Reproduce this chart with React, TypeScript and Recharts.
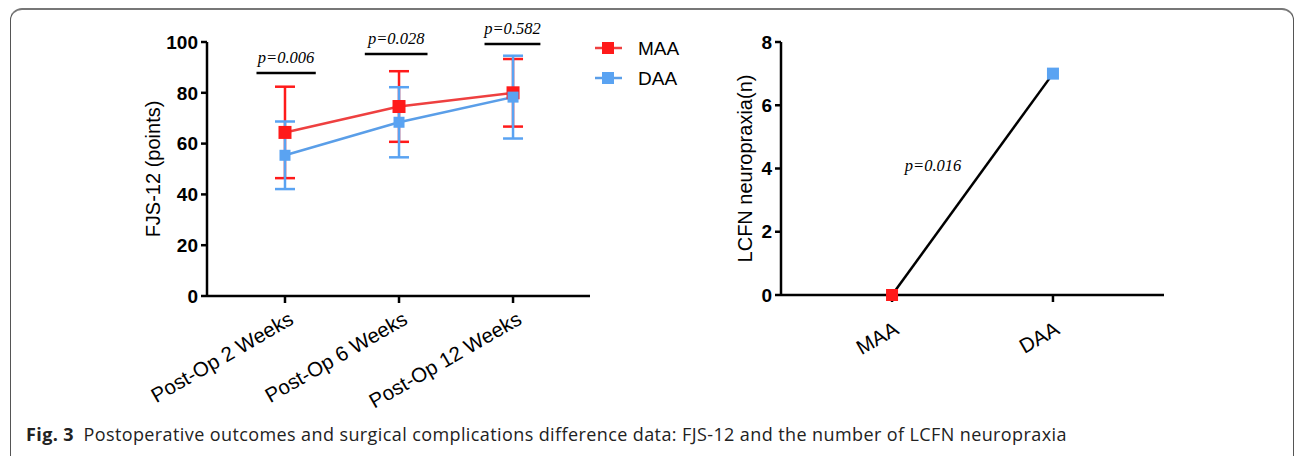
import React from "react";
import {
  LineChart,
  Line,
  XAxis,
  YAxis,
  ErrorBar,
  ReferenceLine,
  ReferenceDot,
} from "recharts";

// FJS-12 panel
const timepoints = ["Post-Op 2 Weeks", "Post-Op 6 Weeks", "Post-Op 12 Weeks"];
const maaMean = [64.4, 74.6, 80.0];
const maaSd = [18.0, 13.9, 13.3];
const daaMean = [55.4, 68.4, 78.3];
const daaSd = [13.3, 13.8, 16.3];
const fjsTicks = [0, 20, 40, 60, 80, 100];
const pLabels = ["p=0.006", "p=0.028", "p=0.582"];
const pLevels = [87.8, 95.3, 99.2];

// LCFN panel
const groups = ["MAA", "DAA"];
const lcfnCounts = [0, 7];
const lcfnTicks = [0, 2, 4, 6, 8];
const lcfnP = "p=0.016";

const RED = "#ff1a1a";
const RED_LINE = "#ee4040";
const BLUE = "#5aa3f2";
const BLUE_LINE = "#5a9ee8";

const fjsData = timepoints.map((t, i) => ({
  x: i,
  name: t,
  maa: maaMean[i],
  maaSd: maaSd[i],
  daa: daaMean[i],
  daaSd: daaSd[i],
}));

const lcfnData = groups.map((g, i) => ({
  x: i,
  name: g,
  n: lcfnCounts[i],
  color: i === 0 ? RED : BLUE,
}));

const Square = (props: any) => {
  const { cx, cy, size, fill } = props;
  if (cx == null || cy == null) return null;
  return <rect x={cx - size / 2} y={cy - size / 2} width={size} height={size} fill={fill} />;
};

const makeTick = (labels: string[], dx: number, dy: number) => (props: any) => {
  const { x, y, payload } = props;
  const bx = x + dx;
  const by = y + dy;
  return (
    <text x={bx} y={by} textAnchor="end" fontSize={20.5} fill="#000" transform={`rotate(-30, ${bx}, ${by})`}>
      {labels[payload.value]}
    </text>
  );
};

const axisLine = { stroke: "#000", strokeWidth: 2.5 };
const yTick = { fontSize: 19, fontWeight: "bold", fill: "#000" };
const pStyle = { fontFamily: "Liberation Serif, serif", fontStyle: "italic", fontSize: 16.5, fill: "#000" };

export default function App() {
  return (
    <div
      style={{
        position: "absolute",
        left: 0,
        top: 0,
        width: 1295,
        height: 456,
        background: "#fff",
        fontFamily: "Liberation Sans, Arial, sans-serif",
        overflow: "hidden",
      }}
    >
      <div
        style={{
          position: "absolute",
          left: 10,
          top: 8,
          width: 1282,
          height: 460,
          borderTop: "2px solid #777",
          borderLeft: "1px solid #555",
          borderRight: "1px solid #555",
          borderBottom: "1px solid #555",
          borderRadius: 12,
        }}
      />

      <div style={{ position: "absolute", left: 0, top: 0 }}>
        <LineChart width={700} height={456} data={fjsData} margin={{ top: 42, right: 110, bottom: 100, left: 99 }}>
          <XAxis
            dataKey="x"
            type="number"
            domain={[-0.684, 2.675]}
            ticks={[0, 1, 2]}
            height={60}
            axisLine={axisLine}
            tickLine={axisLine}
            tickSize={7}
            tickMargin={0}
            tick={makeTick(timepoints, 10, 20)}
          />
          <YAxis
            domain={[0, 100]}
            ticks={fjsTicks}
            width={108}
            axisLine={axisLine}
            tickLine={axisLine}
            tickSize={6}
            tickMargin={3}
            tick={yTick}
            label={{ value: "FJS-12 (points)", angle: -90, position: "center", fontSize: 20, fill: "#000" }}
          />
          {pLabels.map((p, i) => {
            const offs = [
              [-0.25, 0.27],
              [-0.3, 0.25],
              [-0.25, 0.24],
            ][i];
            return (
              <ReferenceLine
                key={p}
                segment={[
                  { x: i + offs[0], y: pLevels[i] },
                  { x: i + offs[1], y: pLevels[i] },
                ]}
                stroke="#000"
                strokeWidth={2.5}
                label={{ value: p, position: "top", offset: 10, ...pStyle }}
              />
            );
          })}
          <Line
            dataKey="maa"
            stroke={RED_LINE}
            strokeWidth={2.5}
            isAnimationActive={false}
            activeDot={false}
            dot={(p: any) => <Square key={`m${p.index}`} {...p} size={13} fill={RED} />}
          >
            <ErrorBar dataKey="maaSd" direction="y" width={10} stroke={RED} strokeWidth={2.5} />
          </Line>
          <Line
            dataKey="daa"
            stroke={BLUE_LINE}
            strokeWidth={2.5}
            isAnimationActive={false}
            activeDot={false}
            dot={(p: any) => <Square key={`d${p.index}`} {...p} size={11} fill={BLUE} />}
          >
            <ErrorBar dataKey="daaSd" direction="y" width={10} stroke={BLUE} strokeWidth={2.5} />
          </Line>
        </LineChart>
      </div>

      <svg style={{ position: "absolute", left: 590, top: 30 }} width={120} height={70}>
        {[
          { label: "MAA", color: RED, line: RED_LINE, y: 18 },
          { label: "DAA", color: BLUE, line: BLUE_LINE, y: 48 },
        ].map((it) => (
          <g key={it.label}>
            <line x1={5} x2={32} y1={it.y} y2={it.y} stroke={it.line} strokeWidth={2.5} />
            <rect x={12} y={it.y - 6} width={12} height={12} fill={it.color} />
            <text x={48} y={it.y + 7} fontSize={19} fill="#000">
              {it.label}
            </text>
          </g>
        ))}
      </svg>

      <div style={{ position: "absolute", left: 640, top: 0 }}>
        <LineChart width={600} height={456} data={lcfnData} margin={{ top: 42, right: 76, bottom: 101, left: 69 }}>
          <XAxis
            dataKey="x"
            type="number"
            domain={[-0.69, 1.69]}
            ticks={[0, 1]}
            height={60}
            axisLine={axisLine}
            tickLine={axisLine}
            tickSize={7}
            tickMargin={0}
            tick={makeTick(groups, 8, 31)}
          />
          <YAxis
            domain={[0, 8]}
            ticks={lcfnTicks}
            width={72}
            axisLine={axisLine}
            tickLine={axisLine}
            tickSize={6}
            tickMargin={3}
            tick={yTick}
            label={{ value: "LCFN neuropraxia(n)", angle: -90, position: "center", fontSize: 20, fill: "#000" }}
          />
          <ReferenceDot
            x={0.255}
            y={4.11}
            r={1}
            fill="none"
            stroke="none"
            label={{ value: lcfnP, position: "center", ...pStyle }}
          />
          <Line
            dataKey="n"
            stroke="#000"
            strokeWidth={2.5}
            isAnimationActive={false}
            activeDot={false}
            dot={(p: any) => <Square key={`l${p.index}`} {...p} size={12} fill={p.payload.color} />}
          />
        </LineChart>
      </div>

      <div
        style={{
          position: "absolute",
          left: 26,
          top: 422,
          fontSize: 18,
          letterSpacing: 0.4,
          fontFamily: "Open Sans, sans-serif",
          color: "#222",
          whiteSpace: "nowrap",
        }}
      >
        <b>Fig. 3</b>
        {"\u2002"}Postoperative outcomes and surgical complications difference data: FJS-12 and the number of LCFN neuropraxia
      </div>
    </div>
  );
}
